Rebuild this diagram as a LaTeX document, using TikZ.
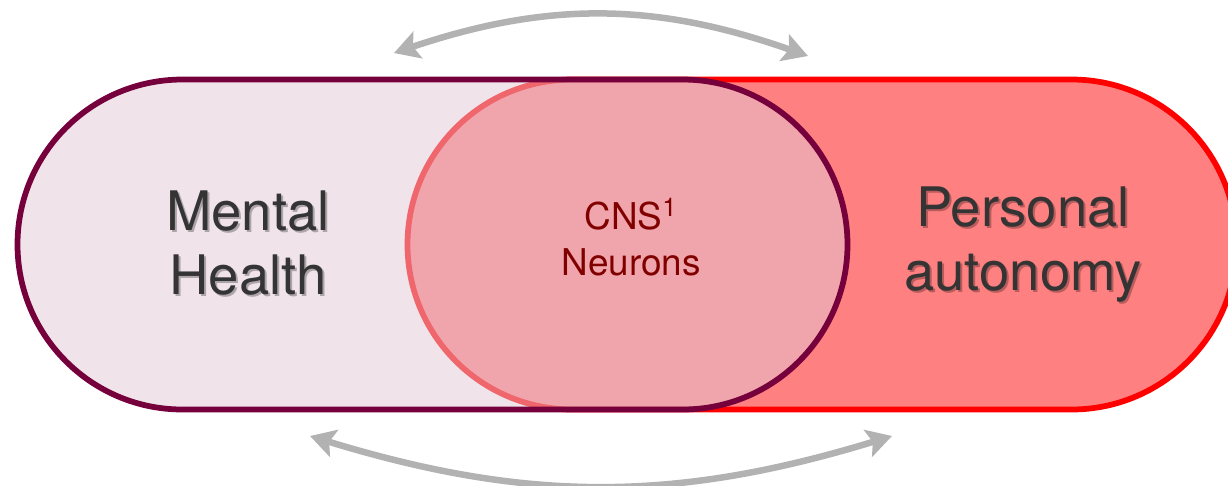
\documentclass[tikz,border=0pt]{standalone}
\usepackage{fontspec}
\setmainfont{TeX Gyre Heros}
\usetikzlibrary{arrows.meta}
\definecolor{mauve}{RGB}{118,0,60}
\definecolor{mauvefill}{RGB}{225,202,214}
\definecolor{redfill}{RGB}{255,128,128}
\definecolor{labeltext}{RGB}{52,52,52}
\definecolor{cnstext}{RGB}{128,0,0}
\definecolor{cyclegray}{RGB}{178,178,178}
\begin{document}
\begin{tikzpicture}[x=0.2mm,y=-0.2mm,
  pill/.style={line width=1.15mm, rounded corners=33mm},
  biglabel/.style={font=\fontsize{31}{36.5}\selectfont, align=center, text=labeltext, inner sep=0pt},
  shadowlabel/.style={biglabel, text=black, text opacity=0.28},
  smalllabel/.style={font=\fontsize{21}{26}\selectfont, align=center, text=cnstext, inner sep=0pt},
  cycle/.style={draw=cyclegray, line width=1.3mm,
    arrows={Stealth[length=5mm, width=5.6mm, inset=1mm]-Stealth[length=5mm, width=5.6mm, inset=1mm]}}
]
\useasboundingbox (0,0) rectangle (1228,485);

% right pill: personal autonomy
\fill[redfill] (407.5,79.5) [pill] rectangle (1236.5,409.5);
\draw[red, pill] (407.5,79.5) rectangle (1236.5,409.5);

% left pill: mental health, translucent over the right one
\fill[mauvefill, fill opacity=0.51] (17.5,79.5) [pill] rectangle (847.5,409.5);
\draw[mauve, pill] (17.5,79.5) rectangle (847.5,409.5);

% labels with a soft drop shadow
\node[shadowlabel] (mhs) at (250,245) {Mental\\Health};
\node[biglabel] (mh) at (248,243) {Mental\\Health};
\node[shadowlabel] (pas) at (1025,247) {Personal\\autonomy};
\node[biglabel] (pa) at (1023,245) {Personal\\autonomy};
\node[smalllabel] (cns) at (631,237) {CNS\textsuperscript{1}\\Neurons};

% two-way cycle arrows above and below
\coordinate (ta) at (394,53);
\coordinate (tb) at (808,56);
\coordinate (ba) at (310,436);
\coordinate (bb) at (892,436);
\draw[cycle] (ta) to[bend left=19] (tb);
\draw[cycle] (ba) to[bend right=17] (bb);
\end{tikzpicture}
\end{document}
